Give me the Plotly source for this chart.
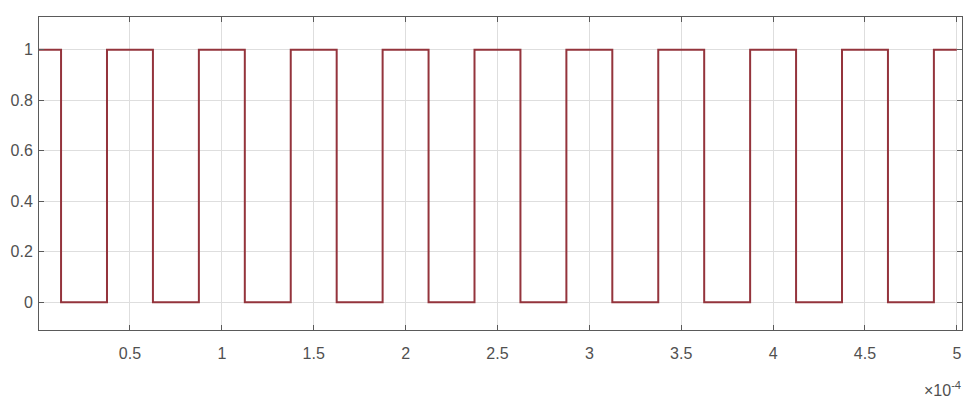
import plotly.graph_objects as go

# Square-wave edges (seconds) and the level held from each edge onward
edge_times = [0.0, 0.125e-4, 0.375e-4, 0.625e-4, 0.875e-4, 1.125e-4, 1.375e-4,
              1.625e-4, 1.875e-4, 2.125e-4, 2.375e-4, 2.625e-4, 2.875e-4,
              3.125e-4, 3.375e-4, 3.625e-4, 3.875e-4, 4.125e-4, 4.375e-4,
              4.625e-4, 4.875e-4, 5.0e-4]
levels = [1, 0, 1, 0, 1, 0, 1, 0, 1, 0, 1, 0, 1, 0, 1, 0, 1, 0, 1, 0, 1, 1]

x_tick_vals = [0.5e-4, 1.0e-4, 1.5e-4, 2.0e-4, 2.5e-4, 3.0e-4, 3.5e-4, 4.0e-4, 4.5e-4, 5.0e-4]
x_tick_text = ["0.5", "1", "1.5", "2", "2.5", "3", "3.5", "4", "4.5", "5"]
y_tick_vals = [0, 0.2, 0.4, 0.6, 0.8, 1]
y_tick_text = ["0", "0.2", "0.4", "0.6", "0.8", "1"]

FONT = "Liberation Sans, Arial, sans-serif"

fig = go.Figure()
fig.add_trace(go.Scatter(
    x=edge_times, y=levels, mode="lines", line_shape="hv",
    line=dict(color="#94343c", width=2), showlegend=False,
))

axis_common = dict(
    showgrid=True, gridcolor="#dedede", gridwidth=1,
    showline=True, linecolor="#5a5a5a", linewidth=1, mirror="allticks",
    ticks="inside", ticklen=5, tickcolor="#5a5a5a",
    tickfont=dict(family=FONT, size=16, color="#505050"),
    zeroline=False, automargin=False,
)

fig.update_xaxes(range=[0.005e-4, 5.028e-4], tickvals=x_tick_vals, ticktext=x_tick_text,
                 ticklabelstandoff=9, **axis_common)
fig.update_yaxes(range=[-0.11, 1.13], tickvals=y_tick_vals, ticktext=y_tick_text,
                 ticklabelstandoff=2, **axis_common)

fig.add_annotation(
    x=1.0, y=0, xref="paper", yref="paper", xanchor="right", yanchor="top",
    yshift=-47, xshift=1, showarrow=False,
    text="×10<sup>-4</sup>",
    font=dict(family=FONT, size=16, color="#505050"),
)

fig.update_layout(
    width=966, height=401,
    margin=dict(l=39, r=4, t=17, b=71),
    paper_bgcolor="white", plot_bgcolor="white",
)

fig.write_html(
    "out.html",
    config={"displayModeBar": False},
    post_script="document.body.style.margin='0';document.body.style.overflow='hidden';",
)
